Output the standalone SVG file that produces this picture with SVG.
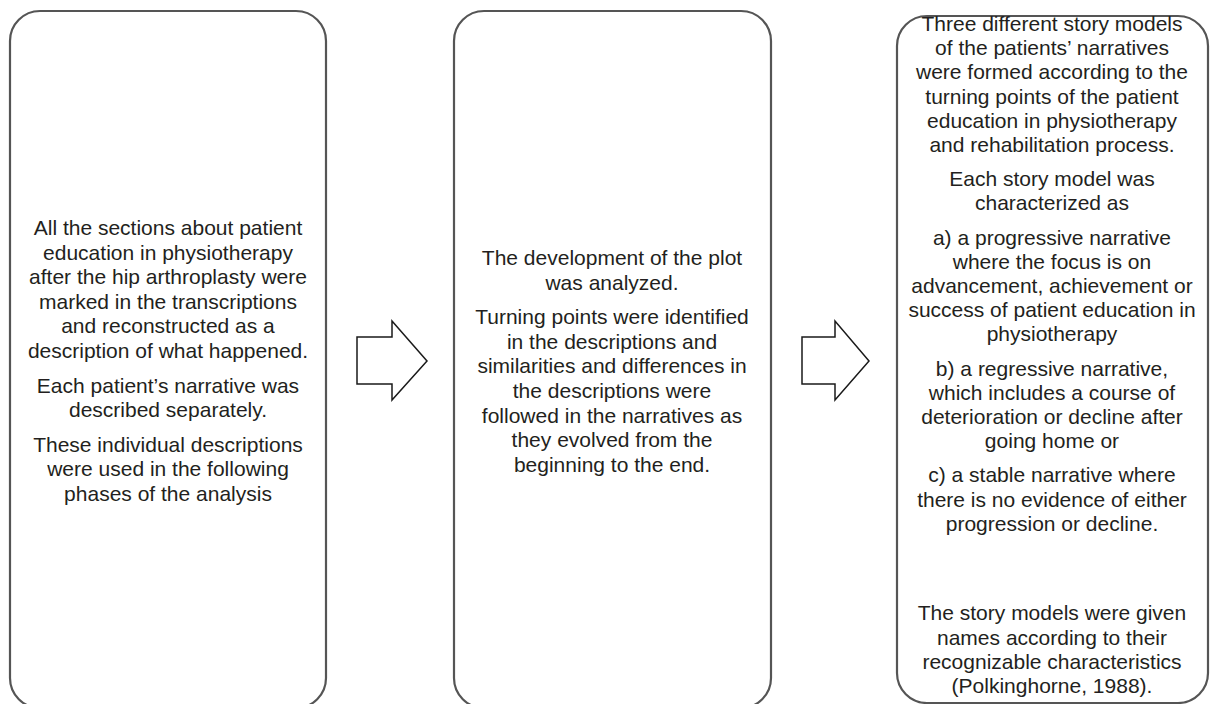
<svg xmlns="http://www.w3.org/2000/svg" width="1210" height="704" viewBox="0 0 1210 704">
<style>
.box{fill:#fff;stroke:#555;stroke-width:2.2}
.arr{fill:#fff;stroke:#1a1a1a;stroke-width:1.5;stroke-linejoin:miter}
text{font-family:"Liberation Sans",Arial,sans-serif;font-size:21px;fill:#231f20;text-anchor:middle}
</style>
<rect width="1210" height="704" fill="#fff"/>
<g id="node1">
<rect class="box" x="10" y="11" width="316" height="697" rx="30" ry="30"/>
<text x="168" y="235">All the sections about patient</text>
<text x="168" y="259.6">education in physiotherapy</text>
<text x="168" y="284.2">after the hip arthroplasty were</text>
<text x="168" y="308.8">marked in the transcriptions</text>
<text x="168" y="333.4">and reconstructed as a</text>
<text x="168" y="358">description of what happened.</text>
<text x="168" y="392.6">Each patient’s narrative was</text>
<text x="168" y="417.2">described separately.</text>
<text x="168" y="451.8">These individual descriptions</text>
<text x="168" y="476.4">were used in the following</text>
<text x="168" y="501">phases of the analysis</text>
</g>
<g id="node2">
<rect class="box" x="454" y="11" width="317" height="697" rx="30" ry="30"/>
<text x="612" y="265">The development of the plot</text>
<text x="612" y="289.6">was analyzed.</text>
<text x="612" y="324.2">Turning points were identified</text>
<text x="612" y="348.8">in the descriptions and</text>
<text x="612" y="373.4">similarities and differences in</text>
<text x="612" y="398">the descriptions were</text>
<text x="612" y="422.6">followed in the narratives as</text>
<text x="612" y="447.2">they evolved from the</text>
<text x="612" y="471.8">beginning to the end.</text>
</g>
<g id="node3">
<rect class="box" x="897" y="16" width="311" height="687" rx="30" ry="30"/>
<text x="1052" y="31">Three different story models</text>
<text x="1052" y="55.2">of the patients’ narratives</text>
<text x="1052" y="79.4">were formed according to the</text>
<text x="1052" y="103.6">turning points of the patient</text>
<text x="1052" y="127.8">education in physiotherapy</text>
<text x="1052" y="152">and rehabilitation process.</text>
<text x="1052" y="186.2">Each story model was</text>
<text x="1052" y="210.4">characterized as</text>
<text x="1052" y="244.6">a) a progressive narrative</text>
<text x="1052" y="268.8">where the focus is on</text>
<text x="1052" y="293">advancement, achievement or</text>
<text x="1052" y="317.2">success of patient education in</text>
<text x="1052" y="341.4">physiotherapy</text>
<text x="1052" y="375.6">b) a regressive narrative,</text>
<text x="1052" y="399.8">which includes a course of</text>
<text x="1052" y="424">deterioration or decline after</text>
<text x="1052" y="448.2">going home or</text>
<text x="1052" y="482.4">c) a stable narrative where</text>
<text x="1052" y="506.6">there is no evidence of either</text>
<text x="1052" y="530.8">progression or decline.</text>
<text x="1052" y="620.4">The story models were given</text>
<text x="1052" y="644.6">names according to their</text>
<text x="1052" y="668.8">recognizable characteristics</text>
<text x="1052" y="693">(Polkinghorne, 1988).</text>
</g>
<g id="connectors">
<polygon class="arr" points="357,337 392,337 392,321 427,361 392,400 392,384 357,384"/>
<polygon class="arr" points="802,337 835,337 835,321 869,361 835,400 835,384 802,384"/>
</g>
</svg>
